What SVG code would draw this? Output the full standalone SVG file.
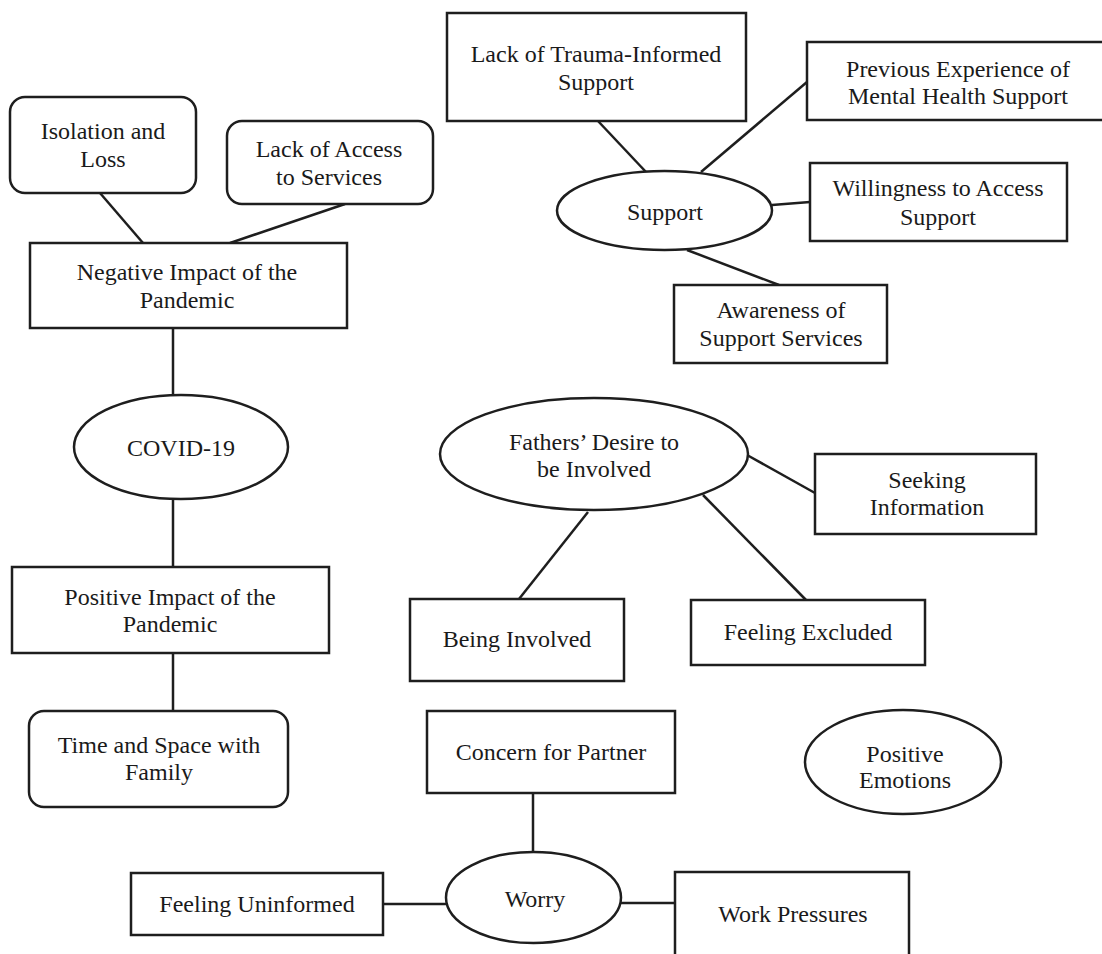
<svg xmlns="http://www.w3.org/2000/svg" width="1102" height="954" viewBox="0 0 1102 954">
  <style>
    .box { fill: #ffffff; stroke: #1e1e1e; stroke-width: 2.5; }
    .conn line { stroke: #1e1e1e; stroke-width: 2.5; }
    text { font-family: "Liberation Serif", "Times New Roman", serif; font-size: 24px; fill: #1a1a1a; text-anchor: middle; }
  </style>
  <rect x="0" y="0" width="1102" height="954" fill="#ffffff"/>
  <g id="connectors" class="conn">
    <line x1="100" y1="193" x2="143" y2="243"/>
    <line x1="345" y1="204" x2="230" y2="243"/>
    <line x1="173" y1="328" x2="173" y2="395"/>
    <line x1="173" y1="500" x2="173" y2="567"/>
    <line x1="173" y1="653" x2="173" y2="711"/>
    <line x1="598" y1="121" x2="646" y2="172"/>
    <line x1="701" y1="172" x2="807" y2="82"/>
    <line x1="772" y1="205" x2="810" y2="202"/>
    <line x1="687" y1="250" x2="779" y2="285"/>
    <line x1="747" y1="455" x2="815" y2="493"/>
    <line x1="588" y1="512" x2="519" y2="599"/>
    <line x1="703" y1="495" x2="806" y2="600"/>
    <line x1="533" y1="793" x2="533" y2="852"/>
    <line x1="383" y1="904" x2="446" y2="904"/>
    <line x1="621" y1="903" x2="675" y2="903"/>
  </g>
  <g id="isolation-loss">
    <rect class="box" x="10" y="97" width="186" height="96" rx="15"/>
    <text x="103" y="139">Isolation and</text>
    <text x="103" y="167">Loss</text>
  </g>
  <g id="lack-access">
    <rect class="box" x="227" y="121" width="206" height="83" rx="15"/>
    <text x="329" y="157">Lack of Access</text>
    <text x="329" y="185">to Services</text>
  </g>
  <g id="negative-impact">
    <rect class="box" x="30" y="243" width="317" height="85"/>
    <text x="187" y="280">Negative Impact of the</text>
    <text x="187" y="308">Pandemic</text>
  </g>
  <g id="covid">
    <ellipse class="box" cx="181" cy="447" rx="107" ry="52"/>
    <text x="181" y="456">COVID-19</text>
  </g>
  <g id="positive-impact">
    <rect class="box" x="12" y="567" width="317" height="86"/>
    <text x="170" y="605">Positive Impact of the</text>
    <text x="170" y="632">Pandemic</text>
  </g>
  <g id="time-space">
    <rect class="box" x="29" y="711" width="259" height="96" rx="15"/>
    <text x="159" y="753">Time and Space with</text>
    <text x="159" y="780">Family</text>
  </g>
  <g id="lack-trauma">
    <rect class="box" x="447" y="13" width="299" height="108"/>
    <text x="596" y="62">Lack of Trauma-Informed</text>
    <text x="596" y="90">Support</text>
  </g>
  <g id="previous-experience">
    <rect class="box" x="807" y="42" width="300" height="78"/>
    <text x="958" y="77">Previous Experience of</text>
    <text x="958" y="104">Mental Health Support</text>
  </g>
  <g id="support">
    <ellipse class="box" cx="664.5" cy="210.5" rx="107.5" ry="39.5"/>
    <text x="665" y="220">Support</text>
  </g>
  <g id="willingness">
    <rect class="box" x="810" y="163" width="257" height="78"/>
    <text x="938" y="196">Willingness to Access</text>
    <text x="938" y="225">Support</text>
  </g>
  <g id="awareness">
    <rect class="box" x="674" y="285" width="213" height="78"/>
    <text x="781" y="318">Awareness of</text>
    <text x="781" y="346">Support Services</text>
  </g>
  <g id="fathers-desire">
    <ellipse class="box" cx="594" cy="454" rx="154" ry="56"/>
    <text x="594" y="450">Fathers’ Desire to</text>
    <text x="594" y="477">be Involved</text>
  </g>
  <g id="seeking-information">
    <rect class="box" x="815" y="454" width="221" height="80"/>
    <text x="927" y="488">Seeking</text>
    <text x="927" y="515">Information</text>
  </g>
  <g id="being-involved">
    <rect class="box" x="410" y="599" width="214" height="82"/>
    <text x="517" y="647">Being Involved</text>
  </g>
  <g id="feeling-excluded">
    <rect class="box" x="691" y="600" width="234" height="65"/>
    <text x="808" y="640">Feeling Excluded</text>
  </g>
  <g id="concern-partner">
    <rect class="box" x="427" y="711" width="248" height="82"/>
    <text x="551" y="760">Concern for Partner</text>
  </g>
  <g id="positive-emotions">
    <ellipse class="box" cx="903" cy="762" rx="98" ry="52"/>
    <text x="905" y="762">Positive</text>
    <text x="905" y="788">Emotions</text>
  </g>
  <g id="worry">
    <ellipse class="box" cx="533.5" cy="897.5" rx="87.5" ry="45.5"/>
    <text x="535" y="907">Worry</text>
  </g>
  <g id="feeling-uninformed">
    <rect class="box" x="131" y="873" width="252" height="62"/>
    <text x="257" y="912">Feeling Uninformed</text>
  </g>
  <g id="work-pressures">
    <rect class="box" x="675" y="872" width="234" height="100"/>
    <text x="793" y="922">Work Pressures</text>
  </g>
</svg>
